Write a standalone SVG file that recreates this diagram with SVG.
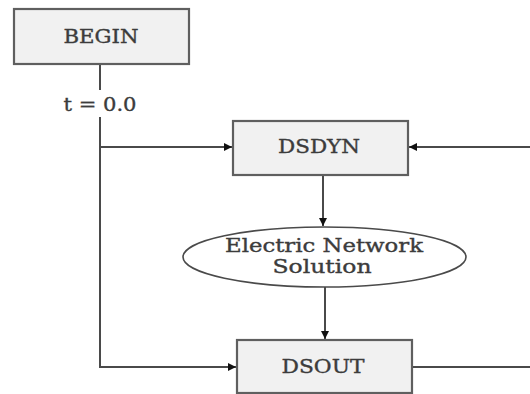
<svg xmlns="http://www.w3.org/2000/svg" width="530" height="394" viewBox="0 0 530 394">
<style>
.box{fill:#f1f1f1;stroke:#5f5f5f;stroke-width:2.2}
.ell{fill:#fff;stroke:#4a4a4a;stroke-width:1.6}
.lbl{font-family:"DejaVu Serif","Liberation Serif",serif;font-size:18px;fill:#3c3c3c;stroke:#3c3c3c;stroke-width:0.35;text-anchor:middle}
.ln{fill:none;stroke:#4a4a4a;stroke-width:2}
</style>
<defs>
<marker id="ah" viewBox="0 0 10 10" refX="10" refY="5" markerWidth="10" markerHeight="8" markerUnits="userSpaceOnUse" orient="auto">
<path d="M0,0 L10,5 L0,10 Z" fill="#111"/>
</marker>
</defs>
<rect width="530" height="394" fill="#fff"/>
<g id="connectors">
<line class="ln" x1="100" y1="64" x2="100" y2="90"/>
<polyline class="ln" points="100,117 100,367 236,367" marker-end="url(#ah)"/>
<line class="ln" x1="100" y1="147" x2="232" y2="147" marker-end="url(#ah)"/>
<line class="ln" x1="530" y1="147" x2="409" y2="147" marker-end="url(#ah)"/>
<line class="ln" x1="323" y1="175" x2="323" y2="226" marker-end="url(#ah)"/>
<line class="ln" x1="325" y1="287" x2="325" y2="339" marker-end="url(#ah)"/>
<line class="ln" x1="412" y1="367" x2="530" y2="367"/>
<text class="lbl" x="100" y="111" textLength="73" lengthAdjust="spacingAndGlyphs">t = 0.0</text>
</g>
<g id="begin">
<rect class="box" x="14" y="9" width="175" height="55"/>
<text class="lbl" x="101" y="43" textLength="75" lengthAdjust="spacingAndGlyphs">BEGIN</text>
</g>
<g id="dsdyn">
<rect class="box" x="233" y="121" width="175" height="54"/>
<text class="lbl" x="319" y="153" textLength="82" lengthAdjust="spacingAndGlyphs">DSDYN</text>
</g>
<g id="network">
<ellipse class="ell" cx="324.5" cy="257" rx="141.5" ry="30"/>
<text class="lbl" x="324" y="252" textLength="198" lengthAdjust="spacingAndGlyphs">Electric Network</text>
<text class="lbl" x="322" y="273" textLength="99" lengthAdjust="spacingAndGlyphs">Solution</text>
</g>
<g id="dsout">
<rect class="box" x="237" y="340" width="175" height="53"/>
<text class="lbl" x="323" y="373" textLength="83" lengthAdjust="spacingAndGlyphs">DSOUT</text>
</g>
</svg>
